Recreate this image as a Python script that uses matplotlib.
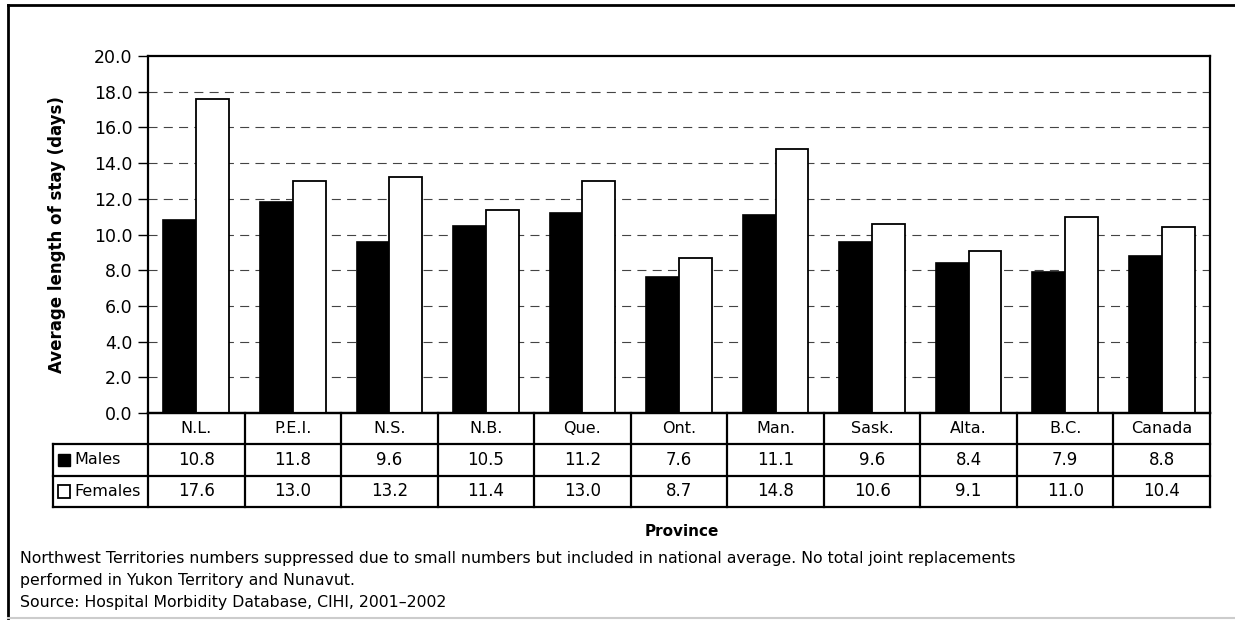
import matplotlib
matplotlib.use("Agg")
import numpy as np
import matplotlib.pyplot as plt
from matplotlib.lines import Line2D
from matplotlib.patches import Rectangle

provinces = ["N.L.", "P.E.I.", "N.S.", "N.B.", "Que.", "Ont.", "Man.",
             "Sask.", "Alta.", "B.C.", "Canada"]
males = [10.8, 11.8, 9.6, 10.5, 11.2, 7.6, 11.1, 9.6, 8.4, 7.9, 8.8]
females = [17.6, 13.0, 13.2, 11.4, 13.0, 8.7, 14.8, 10.6, 9.1, 11.0, 10.4]
y_ticks = np.arange(0, 20.1, 2.0)

notes = [
    "Northwest Territories numbers suppressed due to small numbers but included in national average. No total joint replacements",
    "performed in Yukon Territory and Nunavut.",
    "Source: Hospital Morbidity Database, CIHI, 2001\u20132002",
]

plt.rcParams["font.family"] = "DejaVu Sans"
plt.rcParams["lines.scale_dashes"] = False

W, H = 1235, 620
fig = plt.figure(figsize=(W / 100, H / 100), dpi=100)


def fx(px):
    return px / W


def fy(py):
    return 1 - py / H


# outer frame
fig.add_artist(Line2D([fx(8), fx(1235)], [fy(5), fy(5)], color="black", lw=2))
fig.add_artist(Line2D([fx(8), fx(8)], [fy(5), fy(618)], color="black", lw=2))
fig.add_artist(Line2D([fx(8), fx(1235)], [fy(618), fy(618)], color="#cccccc", lw=1.5))

# main chart
ax = fig.add_axes([fx(148), fy(413), fx(1210) - fx(148), fy(56) - fy(413)])
x = np.arange(len(provinces))
bw = 0.34
ax.bar(x - bw / 2, males, bw, color="black", edgecolor="black", lw=1.2, zorder=3)
ax.bar(x + bw / 2, females, bw, color="white", edgecolor="black", lw=1.3, zorder=3)

ax.set_xlim(-0.5, len(provinces) - 0.5)
ax.set_ylim(0, 20)
ax.set_yticks(y_ticks)
ax.set_yticklabels([f"{v:.1f}" for v in y_ticks], fontsize=12.5)
ax.set_xticks([])
ax.tick_params(axis="y", direction="out", length=7, width=1, pad=4)
for v in y_ticks[1:-1]:
    ax.axhline(v, color="#444444", lw=0.8, ls=(0, (6.5, 4.5)), zorder=1)
for s in ax.spines.values():
    s.set_linewidth(1.6)
ax.set_ylabel("Average length of stay (days)", fontsize=12, fontweight="bold", labelpad=20)

# data table below the plot
tax = fig.add_axes([fx(53), fy(507), fx(1210) - fx(53), fy(413) - fy(507)])
left = -0.5 - 95 / 96.55
right = len(provinces) - 0.5
tax.set_xlim(left, right)
tax.set_ylim(0, 3)
tax.axis("off")
lk = dict(color="black", lw=1.6, clip_on=False)
tax.plot([-0.5, right], [3, 3], **lk)
tax.plot([left, right], [2, 2], **lk)
tax.plot([left, right], [1, 1], **lk)
tax.plot([left, right], [0, 0], **lk)
tax.plot([left, left], [0, 2], **lk)
for i in range(len(provinces) + 1):
    tax.plot([i - 0.5, i - 0.5], [0, 3], **lk)

for i, name in enumerate(provinces):
    tax.text(i, 2.5, name, ha="center", va="center", fontsize=11.5)
    tax.text(i, 1.5, f"{males[i]:.1f}", ha="center", va="center", fontsize=12)
    tax.text(i, 0.5, f"{females[i]:.1f}", ha="center", va="center", fontsize=12)

sq = 0.12
tax.add_patch(Rectangle((left + 0.055, 1.5 - 0.2), sq, 0.4, facecolor="black",
                        edgecolor="black", lw=1))
tax.add_patch(Rectangle((left + 0.055, 0.5 - 0.2), sq, 0.4, facecolor="white",
                        edgecolor="black", lw=1.3))
tax.text(left + 0.22, 1.5, "Males", ha="left", va="center", fontsize=11.5)
tax.text(left + 0.22, 0.5, "Females", ha="left", va="center", fontsize=11.5)

fig.text(fx(682), fy(532), "Province", ha="center", va="center",
         fontsize=11, fontweight="bold")
for k, line in enumerate(notes):
    fig.text(fx(20), fy(559 + 21.5 * k), line, ha="left", va="center", fontsize=11.3)

fig.savefig("out.png", dpi=100)
